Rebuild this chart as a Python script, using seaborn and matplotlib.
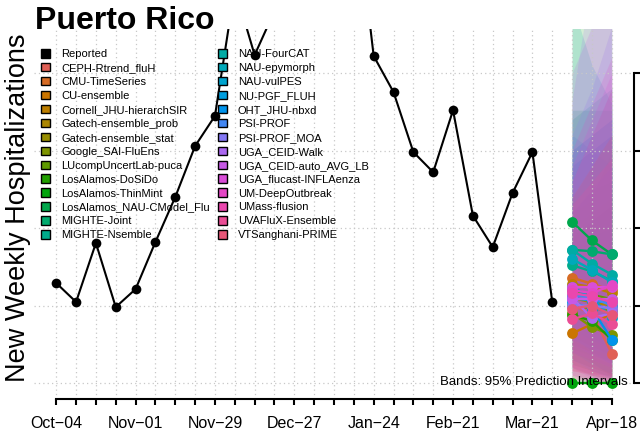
import numpy as np
import pandas as pd
import seaborn as sns
import matplotlib
matplotlib.use("Agg")
import matplotlib.pyplot as plt
import matplotlib.dates as mdates
from matplotlib.patches import Patch

# ---- data ----
start_week = "2025-10-04"
reported = [64.5, 52.3, 90.3, 49.0, 60.6, 91.0, 120.0, 152.9, 172.3, 255.0, 211.6, 240.0,
            290.0, 330.0, 345.0, 320.0, 211.0, 187.7, 149.0, 136.0, 176.0, 108.0, 87.7,
            122.6, 149.0, 52.3]
forecast_dates = ["2026-04-04", "2026-04-11", "2026-04-18"]

models = ["CEPH-Rtrend_fluH", "CMU-TimeSeries", "CU-ensemble", "Cornell_JHU-hierarchSIR",
          "Gatech-ensemble_prob", "Gatech-ensemble_stat", "Google_SAI-FluEns",
          "LUcompUncertLab-puca", "LosAlamos-DoSiDo", "LosAlamos-ThinMint",
          "LosAlamos_NAU-CModel_Flu", "MIGHTE-Joint", "MIGHTE-Nsemble", "NAU-FourCAT",
          "NAU-epymorph", "NAU-vulPES", "NU-PGF_FLUH", "OHT_JHU-nbxd", "PSI-PROF",
          "PSI-PROF_MOA", "UGA_CEID-Walk", "UGA_CEID-auto_AVG_LB", "UGA_flucast-INFLAenza",
          "UM-DeepOutbreak", "UMass-flusion", "UVAFluX-Ensemble", "VTSanghani-PRIME"]

median = [[50, 45, 19], [68, 64, 60], [32, 38, 45], [64, 62, 58], [55, 52, 50],
          [50, 48, 47], [45, 36, 31], [60, 57, 54], [44, 40, 28], [0, 0, 0],
          [104, 92, 83], [86, 85, 83], [76, 72, 66], [86, 77, 70], [80, 73, 65],
          [62, 55, 42], [55, 53, 52], [52, 48, 28], [57, 55, 50], [50, 50, 48],
          [55, 42, 45], [54, 54, 54], [62, 62, 62], [60, 58, 63], [58, 56, 52],
          [41, 45, 38], [48, 50, 44]]
lower95 = [[20, 14, 4], [35, 28, 22], [8, 6, 5], [30, 24, 18], [25, 20, 15],
           [22, 18, 14], [15, 10, 6], [10, 5, 2], [12, 8, 4], [0, 0, 0],
           [60, 45, 35], [40, 30, 25], [35, 28, 22], [40, 30, 22], [30, 20, 12],
           [20, 12, 6], [28, 22, 18], [15, 8, 3], [25, 18, 12], [20, 15, 10],
           [5, 0, 0], [10, 3, 0], [10, 6, 4], [5, 3, 2], [8, 5, 3],
           [2, 1, 0], [3, 2, 0]]
upper95 = [[95, 100, 70], [110, 118, 125], [90, 120, 150], [120, 140, 160], [100, 110, 120],
           [95, 105, 115], [90, 95, 100], [140, 150, 160], [110, 125, 130], [235, 240, 245],
           [176, 176, 176], [170, 180, 190], [150, 160, 170], [245, 205, 180], [160, 150, 140],
           [150, 160, 170], [110, 125, 140], [140, 150, 160], [130, 160, 190], [160, 190, 230],
           [180, 260, 330], [200, 230, 260], [140, 170, 200], [150, 180, 210], [115, 130, 145],
           [130, 160, 190], [120, 140, 160]]

tick_labels = ["Oct\u221204", "Nov\u221201", "Nov\u221229", "Dec\u221227",
               "Jan\u221224", "Feb\u221221", "Mar\u221221", "Apr\u221218"]


def hcl(h, c, l):
    # R style hcl() -> hex (polar Luv, D65)
    h = np.deg2rad(h)
    U, V = c * np.cos(h), c * np.sin(h)
    Xn, Yn, Zn = 95.047, 100.0, 108.883
    un = 4 * Xn / (Xn + 15 * Yn + 3 * Zn)
    vn = 9 * Yn / (Xn + 15 * Yn + 3 * Zn)
    Y = Yn * ((l + 16) / 116) ** 3
    u = U / (13 * l) + un
    v = V / (13 * l) + vn
    X = 9 * Y * u / (4 * v)
    Z = Y * (12 - 3 * u - 20 * v) / (4 * v)
    M = np.array([[3.2404542, -1.5371385, -0.4985314],
                  [-0.9692660, 1.8760108, 0.0415560],
                  [0.0556434, -0.2040259, 1.0572252]])
    rgb = M @ np.array([X, Y, Z]) / 100
    rgb = np.clip(rgb, 0, 1)
    rgb = np.where(rgb <= 0.0031308, 12.92 * rgb, 1.055 * rgb ** (1 / 2.4) - 0.055)
    return matplotlib.colors.to_hex(np.clip(rgb, 0, 1))


hues = np.linspace(15, 375, len(models) + 1)[:-1]
pal = {m: hcl(h, 100, 57) for m, h in zip(models, hues)}

# ---- frames ----
rep_dates = pd.date_range(start_week, periods=len(reported), freq="7D")
df_rep = pd.DataFrame({"date": rep_dates, "value": reported})

fc_dates = pd.to_datetime(forecast_dates)
rows = []
for m, med, lo, hi in zip(models, median, lower95, upper95):
    for d, a, b, c in zip(fc_dates, med, lo, hi):
        rows.append({"model": m, "date": d, "median": a, "lo": b, "hi": c})
df_fc = pd.DataFrame(rows)

# ---- plot ----
plt.rcParams["font.family"] = ["Liberation Sans", "DejaVu Sans"]
fig = plt.figure(figsize=(6.4, 4.32), dpi=100)
ax = fig.add_axes([34 / 640, 33 / 432, 600 / 640, 370 / 432])

for m in models:
    sub = df_fc[df_fc["model"] == m]
    ax.fill_between(sub["date"], sub["lo"], sub["hi"], color=pal[m], alpha=0.17,
                    lw=0, zorder=0.1)

sns.lineplot(data=df_fc, x="date", y="median", hue="model", palette=pal,
             marker="o", markersize=7.8, markeredgewidth=0, lw=1.7,
             legend=False, ax=ax, zorder=3)
sns.lineplot(data=df_rep, x="date", y="value", color="black", marker="o",
             markersize=7, markeredgewidth=0, lw=1.5, ax=ax, zorder=4)

all_weeks = pd.date_range(start_week, forecast_dates[-1], freq="7D")
x0 = mdates.date2num(all_weeks[0])
x1 = mdates.date2num(all_weeks[-1])
pad = (x1 - x0) * 0.04
ax.set_xlim(x0 - pad, x1 + pad)
ax.set_ylim(-10.3, 228.4)

ax.set_xticks(all_weeks)
ax.set_xticklabels([tick_labels[i // 4] if i % 4 == 0 else "" for i in range(len(all_weeks))])
ax.set_yticks([0, 50, 100, 150, 200])
ax.yaxis.tick_right()
ax.tick_params(axis="y", labelright=False, length=5, width=1.5, direction="out")
ax.tick_params(axis="x", length=4, width=1.5, direction="out", labelsize=11.5, pad=8)

ax.set_axisbelow(True)
ax.grid(True, color="#c8c8c8", linestyle=(0, (1, 2.5)), lw=0.9)

for s in ["top", "left"]:
    ax.spines[s].set_visible(False)
ax.spines["bottom"].set_bounds(x0, x1)
ax.spines["right"].set_bounds(0, 200)
ax.spines["bottom"].set_linewidth(1.5)
ax.spines["right"].set_linewidth(1.5)
ax.set_xlabel("")
ax.set_ylabel("")

handles = [Patch(facecolor="black", edgecolor="black", lw=1, label="Reported")]
handles += [Patch(facecolor=pal[m], edgecolor="black", lw=1, label=m) for m in models]
fig.legend(handles=handles, loc="upper left", bbox_to_anchor=(41 / 640, 1 - 49 / 432),
           ncol=2, frameon=False, fontsize=8, handlelength=0.8, handleheight=0.8,
           handletextpad=1.0, columnspacing=0.75, labelspacing=0.345, borderpad=0,
           borderaxespad=0)

fig.text(35 / 640, 1 - 29 / 432, "Puerto Rico", fontsize=23, fontweight="bold",
         va="baseline", ha="left")
fig.text(18 / 640, 1 - 208 / 432, "New Weekly Hospitalizations", fontsize=19.5,
         rotation=90, va="center", ha="center")
fig.text(628 / 640, 1 - 382 / 432, "Bands: 95% Prediction Intervals", fontsize=9.5,
         ha="right", va="center", zorder=10)

fig.savefig("out.png", dpi=100)
